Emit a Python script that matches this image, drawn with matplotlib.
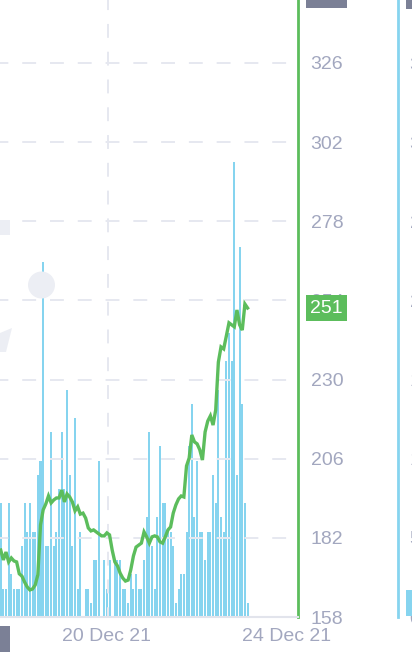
import numpy as np
import matplotlib
matplotlib.use('Agg')
import matplotlib.pyplot as plt
from matplotlib.patches import Rectangle, Circle, Polygon

# Data

price = [178.3, 175.3, 177.7, 174.7, 175.9, 175.0, 174.7, 171.1, 170.4, 168.6,
         167.1, 166.2, 166.5, 167.7, 170.8, 185.9, 190.5, 192.3, 194.7, 192.6,
         193.5, 194.1, 194.1, 196.5, 192.9, 195.3, 194.4, 192.9, 190.2, 191.4,
         189.2, 189.5, 188.0, 185.0, 184.1, 184.4, 183.8, 183.2, 182.6, 182.6,
         183.5, 182.9, 178.3, 174.7, 173.5, 171.3, 169.8, 168.9, 169.2, 172.3,
         176.5, 179.2, 179.8, 180.4, 183.8, 182.3, 180.4, 182.3, 182.6, 182.3,
         180.8, 180.4, 182.3, 184.4, 185.3, 189.5, 192.0, 193.8, 194.7, 194.4,
         203.8, 206.2, 213.2, 211.1, 210.5, 208.7, 205.6, 214.1, 217.4, 219.0,
         216.2, 220.8, 235.3, 239.9, 239.3, 243.2, 247.2, 246.6, 246.0, 251.1,
         246.6, 245.0, 252.9, 251.7]

volume = [8, 2, 2, 8, 3, 2, 2, 2, 5, 8,
          6, 8, 6, 6, 10, 11, 25, 5, 5, 13,
          5, 6, 9, 13, 9, 16, 10, 5, 14, 2,
          6, 0, 2, 2, 1, 4, 4, 11, 0, 4,
          2, 4, 0, 4, 4, 4, 2, 2, 1, 3,
          2, 3, 2, 2, 4, 7, 13, 5, 2, 7,
          12, 8, 8, 6, 6, 5, 1, 2, 3, 3,
          6, 12, 15, 7, 11, 6, 6, 4, 6, 6,
          10, 8, 16, 7, 6, 18, 20, 18, 32, 10,
          26, 15, 8, 1]

price_ticks = [158, 182, 206, 230, 254, 278, 302, 326]
date_pos = [40.0, 107.8]
date_labels = ['20 Dec 21', '24 Dec 21']
vol_ticks = [0, 50, 100, 150, 200, 250, 300, 350]

green = '#5cbd5c'
blue = '#86d4ef'
txt = '#a2a7bf'
grid = '#e6e8f0'
gray_box = '#7b8096'
font = 'Liberation Sans'

plt.rcParams['lines.scale_dashes'] = False

fig = plt.figure(figsize=(4.12, 6.70), dpi=100)
W, H = 412.0, 670.0
rect = [0, 53 / H, 298 / W, 617 / H]
px = fig.dpi_scale_trans

x = np.arange(len(price))

# Watermark shapes (behind everything)
fig.add_artist(Rectangle((0, (H - 235) / 100), 0.10, 0.15, transform=px, color='#eceef4', lw=0))
fig.add_artist(Circle((0.415, (H - 285) / 100), 0.135, transform=px, color='#eceef4', lw=0))
fig.add_artist(Polygon([(0, (H - 333) / 100), (0.12, (H - 328) / 100),
                        (0.06, (H - 352) / 100), (0, (H - 352) / 100)],
                       transform=px, color='#eceef4', lw=0))

# Volume axes (bottom layer)
axv = fig.add_axes(rect)
axv.patch.set_alpha(0)
axv.bar(x, volume, width=0.76, color=blue, linewidth=0, zorder=2)
axv.set_ylim(0, 43.4)
axv.set_xlim(-0.26, 112.0)
axv.axis('off')

# Price axes on top
ax = fig.add_axes(rect, sharex=axv)
ax.patch.set_alpha(0)
ax.set_ylim(158, 345.1)
for t in price_ticks[1:]:
    ax.axhline(t, color=grid, lw=1.4, ls=(4, (10, 10)), zorder=0)
ax.axvline(date_pos[0] + 0.3, color=grid, lw=1.4, ls=(3, (10, 10)), zorder=0)
ax.plot(x, price, color=green, lw=2.4, solid_joinstyle='miter', zorder=3)

ax.yaxis.tick_right()
ax.set_yticks(price_ticks)
ax.set_yticklabels([str(t) for t in price_ticks], fontsize=14, color=txt, family=font)
ax.tick_params(axis='y', length=0, pad=9)
ax.set_xticks(date_pos)
ax.set_xticklabels(date_labels, fontsize=14, color=txt, family=font)
ax.tick_params(axis='x', length=0, pad=8)

for s in ['top', 'left']:
    ax.spines[s].set_visible(False)
ax.spines['right'].set_color(green)
ax.spines['right'].set_linewidth(2)
ax.spines['bottom'].set_color('#e2e4ec')
ax.spines['bottom'].set_linewidth(1.5)

# Last price label and cut-off top label
box = dict(boxstyle='square,pad=0.22', ec='none')
ax.annotate(str(int(price[-1])), xy=(1, price[-1]), xycoords=('axes fraction', 'data'),
            xytext=(8.8, 0), textcoords='offset points', va='center', ha='left',
            fontsize=14, color='white', family=font, bbox=dict(box, fc=green))
ax.annotate('345', xy=(1, 346.6), xycoords=('axes fraction', 'data'),
            xytext=(8.8, 0), textcoords='offset points', va='center', ha='left',
            fontsize=14, color='white', family=font, annotation_clip=False,
            bbox=dict(box, fc=gray_box))

# Cut-off crosshair label bottom left
fig.add_artist(Rectangle((0, (H - 652) / 100), 0.10, 0.26, transform=px, color=gray_box, lw=0))

# Neighbouring panel on the right edge
ax2 = fig.add_axes([398 / W, 53 / H, 0.5 / W, 617 / H])
ax2.patch.set_alpha(0)
ax2.set_ylim(0, 389.9)
ax2.set_xticks([])
ax2.yaxis.tick_right()
ax2.set_yticks(vol_ticks)
ax2.set_yticklabels([str(t) for t in vol_ticks], fontsize=14, color=txt, family=font)
ax2.tick_params(axis='y', length=0, pad=8)
for s in ['top', 'right', 'bottom']:
    ax2.spines[s].set_visible(False)
ax2.spines['left'].set_color(blue)
ax2.spines['left'].set_linewidth(2)
ax2.annotate('9', xy=(1, 9), xycoords=('axes fraction', 'data'),
             xytext=(8.8, 0), textcoords='offset points', va='center', ha='left',
             fontsize=14, color='white', family=font, bbox=dict(box, fc=blue))
ax2.annotate('390', xy=(1, 392), xycoords=('axes fraction', 'data'),
             xytext=(8.8, 0), textcoords='offset points', va='center', ha='left',
             fontsize=14, color='white', family=font, annotation_clip=False,
             bbox=dict(box, fc=gray_box))

fig.savefig('out.png', dpi=100)
